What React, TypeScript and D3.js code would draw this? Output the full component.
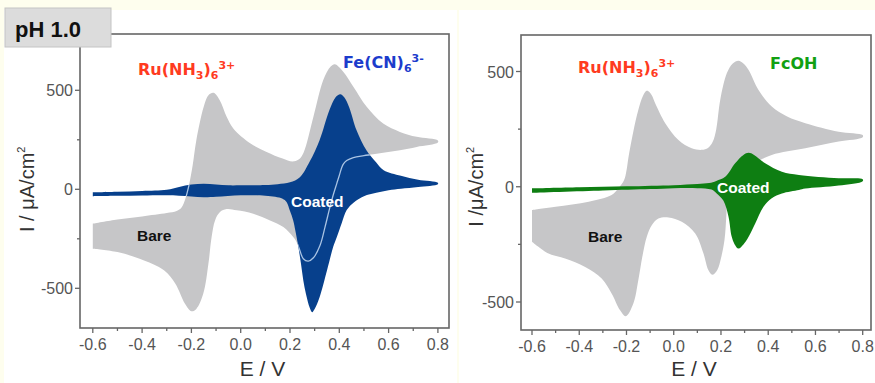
import React from 'react';
import * as d3 from 'd3';

type Pt = [number, number];

// E (V) vs I (uA/cm2); forward scan -0.6 -> 0.8, reverse scan 0.8 -> -0.6
const leftBareFwd: Pt[] = [
  [-0.6, -174], [-0.5, -153], [-0.4, -137], [-0.3, -120], [-0.26, -110], [-0.24, -92],
  [-0.225, -50], [-0.21, 20], [-0.195, 120], [-0.18, 248], [-0.15, 417], [-0.13, 476],
  [-0.11, 487], [-0.085, 450], [-0.057, 366], [-0.03, 307], [0.04, 231], [0.105, 189],
  [0.17, 155], [0.21, 140], [0.235, 150], [0.255, 185], [0.295, 366], [0.335, 552],
  [0.365, 620], [0.382, 632], [0.416, 594], [0.457, 518], [0.511, 417], [0.578, 332],
  [0.646, 290], [0.714, 265], [0.8, 246],
];
const leftBareRev: Pt[] = [
  [0.8, 236], [0.714, 214], [0.646, 197], [0.578, 184], [0.5, 170], [0.457, 160],
  [0.43, 145], [0.415, 125], [0.4, 70], [0.39, 30], [0.375, -30], [0.362, -90],
  [0.342, -191], [0.322, -283], [0.295, -346], [0.274, -363], [0.254, -351], [0.24, -309],
  [0.227, -267], [0.213, -241], [0.173, -191], [0.119, -157], [0.051, -123], [-0.016, -106],
  [-0.057, -100], [-0.084, -115], [-0.104, -157], [-0.118, -241], [-0.131, -376],
  [-0.152, -528], [-0.18, -604], [-0.2, -616], [-0.226, -578], [-0.265, -477],
  [-0.31, -410], [-0.41, -351], [-0.5, -317], [-0.6, -300],
];
const leftCoatedFwd: Pt[] = [
  [-0.6, -15], [-0.5, -12], [-0.4, -8], [-0.3, -2], [-0.25, 12], [-0.2, 24], [-0.15, 28],
  [-0.1, 24], [-0.05, 20], [0, 20], [0.1, 22], [0.15, 26], [0.2, 35], [0.24, 61],
  [0.28, 140], [0.32, 248], [0.36, 400], [0.385, 465], [0.404, 480], [0.42, 465],
  [0.44, 415], [0.47, 298], [0.51, 197], [0.55, 135], [0.58, 96], [0.65, 68],
  [0.72, 48], [0.8, 33],
];
const leftCoatedRev: Pt[] = [
  [0.8, 26], [0.72, 12], [0.65, 3], [0.6, -5], [0.55, -18], [0.5, -35], [0.46, -65],
  [0.43, -105], [0.41, -170], [0.39, -241], [0.375, -292], [0.35, -410], [0.32, -545],
  [0.3, -605], [0.29, -621], [0.28, -598], [0.265, -530], [0.254, -460], [0.245, -380],
  [0.234, -292], [0.222, -210], [0.213, -157], [0.2, -110], [0.186, -64], [0.17, -48],
  [0.14, -38], [0.1, -32], [0, -30], [-0.1, -38], [-0.15, -40], [-0.2, -36],
  [-0.25, -32], [-0.3, -30], [-0.4, -31], [-0.5, -33], [-0.6, -35],
];

const rightBareFwd: Pt[] = [
  [-0.6, -101], [-0.5, -87], [-0.36, -65], [-0.263, -36], [-0.234, -7], [-0.21, 29],
  [-0.2, 70], [-0.192, 125], [-0.171, 240], [-0.15, 333], [-0.13, 395], [-0.114, 417],
  [-0.095, 400], [-0.079, 363], [-0.036, 276], [0.02, 203], [0.076, 167], [0.119, 160],
  [0.145, 168], [0.165, 195], [0.18, 250], [0.197, 377], [0.225, 493], [0.25, 535],
  [0.274, 547], [0.295, 535], [0.317, 507], [0.359, 420], [0.415, 348], [0.48, 305],
  [0.557, 276], [0.698, 239], [0.8, 224],
];
const rightBareRev: Pt[] = [
  [0.8, 215], [0.698, 196], [0.557, 167], [0.415, 138], [0.35, 105], [0.3, 60],
  [0.26, 0], [0.228, -30], [0.223, -120], [0.215, -230], [0.2, -310], [0.185, -360],
  [0.165, -382], [0.147, -362], [0.126, -290], [0.091, -203], [0.034, -152], [-0.022, -133],
  [-0.065, -138], [-0.093, -167], [-0.114, -217], [-0.133, -304], [-0.15, -406],
  [-0.171, -507], [-0.203, -562], [-0.227, -536], [-0.263, -463], [-0.305, -398],
  [-0.375, -348], [-0.46, -311], [-0.53, -290], [-0.6, -239],
];
const rightCoatedFwd: Pt[] = [
  [-0.6, -7], [-0.4, -2], [-0.2, 2], [0, 7], [0.1, 12], [0.15, 16], [0.18, 25],
  [0.218, 43], [0.26, 102], [0.295, 138], [0.317, 147], [0.34, 138], [0.387, 102],
  [0.458, 65], [0.53, 51], [0.698, 37], [0.8, 33],
];
const rightCoatedRev: Pt[] = [
  [0.8, 24], [0.698, 5], [0.557, -8], [0.53, -14], [0.458, -29], [0.415, -50],
  [0.38, -87], [0.345, -159], [0.317, -217], [0.295, -250], [0.274, -268], [0.258, -250],
  [0.245, -215], [0.232, -130], [0.21, -60], [0.182, -29], [0.16, -12], [0.1, -6],
  [0, -6], [-0.1, -10], [-0.3, -16], [-0.6, -26],
];

const xTicks = [-0.6, -0.4, -0.2, 0, 0.2, 0.4, 0.6, 0.8];
const xMinorTicks = [-0.5, -0.3, -0.1, 0.1, 0.3, 0.5, 0.7];
const yTicks = [-500, 0, 500];
const yMinorTicks = [-250, 250];

const GRAY = '#c6c6c8';
const AXIS = '#666';
const TICK_FONT = 'Liberation Sans, Arial, sans-serif';
const CHEM_FONT = 'DejaVu Sans, Verdana, sans-serif';

interface PanelProps {
  id: string;
  frame: [number, number, number, number]; // left, top, right, bottom
  xRange: [number, number];
  yRange: [number, number];
  bareFwd: Pt[];
  bareRev: Pt[];
  coatedFwd: Pt[];
  coatedRev: Pt[];
  coatedColor: string;
  outline: boolean;
  yLabel: string;
  yLabelX: number;
  children?: React.ReactNode;
}

function Panel(p: PanelProps) {
  const [fl, ft, fr, fb] = p.frame;
  const x = d3.scaleLinear().domain([-0.6, 0.8]).range(p.xRange);
  const y = d3.scaleLinear().domain([-500, 500]).range(p.yRange);

  const line = d3.line<Pt>()
    .x(d => x(d[0]))
    .y(d => y(d[1]))
    .curve(d3.curveCatmullRom.alpha(0.5));

  const barePath = line([...p.bareFwd, ...p.bareRev]) + 'Z';
  const coatedPath = line([...p.coatedFwd, ...p.coatedRev]) + 'Z';
  const midY = y(0);

  return (
    <g>
      <path d={barePath} fill={GRAY} />
      <path d={coatedPath} fill={p.coatedColor} />
      {p.outline && (
        <>
          <clipPath id={`clip-${p.id}`}>
            <path d={coatedPath} />
          </clipPath>
          <path d={barePath} fill="none" stroke="#a9c3e3" strokeWidth={1.3}
            clipPath={`url(#clip-${p.id})`} />
        </>
      )}
      <rect x={fl} y={ft} width={fr - fl} height={fb - ft} fill="none"
        stroke={AXIS} strokeWidth={1.6} />
      {xTicks.map(t => (
        <g key={`xt${t}`}>
          <line x1={x(t)} x2={x(t)} y1={fb} y2={fb + 5} stroke={AXIS} strokeWidth={1.3} />
          <text x={x(t)} y={fb + 22} textAnchor="middle" fontFamily={TICK_FONT}
            fontSize={16} fill="#555">{t.toFixed(1)}</text>
        </g>
      ))}
      {xMinorTicks.map(t => (
        <line key={`xm${t}`} x1={x(t)} x2={x(t)} y1={fb} y2={fb + 3} stroke={AXIS} strokeWidth={1.3} />
      ))}
      {yTicks.map(t => (
        <g key={`yt${t}`}>
          <line x1={fl - 5} x2={fl} y1={y(t)} y2={y(t)} stroke={AXIS} strokeWidth={1.3} />
          <text x={fl - 7} y={y(t) + 6} textAnchor="end" fontFamily={TICK_FONT}
            fontSize={16} fill="#555">{String(t)}</text>
        </g>
      ))}
      {yMinorTicks.map(t => (
        <line key={`ym${t}`} x1={fl - 3} x2={fl} y1={y(t)} y2={y(t)} stroke={AXIS} strokeWidth={1.3} />
      ))}
      <text x={(fl + fr) / 2 - 2} y={376} textAnchor="middle" fontFamily={TICK_FONT}
        fontSize={21} fill="#333">E / V</text>
      <text transform={`translate(${p.yLabelX},${midY}) rotate(-90)`} textAnchor="middle"
        fontFamily={TICK_FONT} fontSize={20} fill="#333">
        {p.yLabel}<tspan dy={-9} fontSize={11}>2</tspan>
      </text>
      {p.children}
    </g>
  );
}

type Part = [string, 'n' | 'sub' | 'sup'];

function Chem({ x, y, color, parts }: { x: number; y: number; color: string; parts: Part[] }) {
  let level = 0;
  return (
    <text x={x} y={y} fontFamily={CHEM_FONT} fontWeight="bold" fontSize={16} fill={color}>
      {parts.map(([s, kind], i) => {
        const target = kind === 'sub' ? 4 : kind === 'sup' ? -6 : 0;
        const dy = target - level;
        level = target;
        return (
          <tspan key={i} dy={dy} fontSize={kind === 'n' ? 16 : 11}>{s}</tspan>
        );
      })}
    </text>
  );
}

const ruParts: Part[] = [['Ru(NH', 'n'], ['3', 'sub'], [')', 'n'], ['6', 'sub'], ['3+', 'sup']];
const feParts: Part[] = [['Fe(CN)', 'n'], ['6', 'sub'], ['3-', 'sup']];

export default function App() {
  return (
    <svg width={875} height={383} style={{ position: 'absolute', left: 0, top: 0 }}>
      <rect width={875} height={383} fill="#fefeee" />
      <rect x={4} y={10} width={453} height={373} fill="#fff" />
      <rect x={459} y={10} width={416} height={373} fill="#fff" />

      <Panel id="left" frame={[80, 34, 449, 328]} xRange={[92.8, 437.9]} yRange={[288.3, 90.3]}
        bareFwd={leftBareFwd} bareRev={leftBareRev} coatedFwd={leftCoatedFwd} coatedRev={leftCoatedRev}
        coatedColor="#07408c" outline={true} yLabel="I / μA/cm" yLabelX={34}>
        <Chem x={138} y={75} color="#ff3b1f" parts={ruParts} />
        <Chem x={343} y={68} color="#1c3ccc" parts={feParts} />
        <text x={291} y={207} fontFamily={TICK_FONT} fontWeight="bold" fontSize={15.5} fill="#fff">Coated</text>
        <text x={137} y={241} fontFamily={TICK_FONT} fontWeight="bold" fontSize={15.5} fill="#111">Bare</text>
      </Panel>

      <Panel id="right" frame={[521, 35, 871, 330]} xRange={[532, 862.7]} yRange={[302, 71.5]}
        bareFwd={rightBareFwd} bareRev={rightBareRev} coatedFwd={rightCoatedFwd} coatedRev={rightCoatedRev}
        coatedColor="#0e7e12" outline={false} yLabel="I /μA/cm" yLabelX={483}>
        <Chem x={578} y={73} color="#ff3b1f" parts={ruParts} />
        <text x={770} y={69} fontFamily={CHEM_FONT} fontWeight="bold" fontSize={16} fill="#12a012">FcOH</text>
        <text x={717} y={193} fontFamily={TICK_FONT} fontWeight="bold" fontSize={15.5} fill="#fff">Coated</text>
        <text x={588} y={242} fontFamily={TICK_FONT} fontWeight="bold" fontSize={15.5} fill="#111">Bare</text>
      </Panel>

      <rect x={5} y={8} width={106} height={39} fill="#dcdcdc" stroke="#c4c4c4" strokeWidth={1} />
      <text x={15} y={37} fontFamily={TICK_FONT} fontWeight="bold" fontSize={22} fill="#111">pH 1.0</text>
    </svg>
  );
}
